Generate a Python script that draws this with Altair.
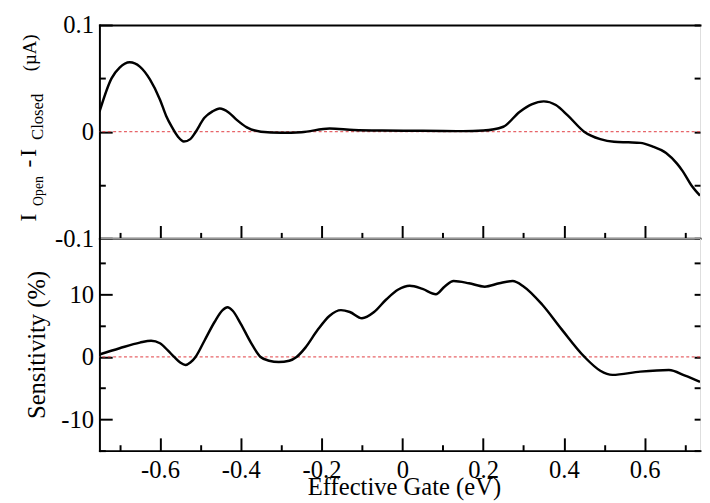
import altair as alt
import pandas as pd

# ---- data ----
gate_top = [-0.75, -0.72, -0.70, -0.675, -0.65, -0.625, -0.60, -0.585, -0.57, -0.555,
            -0.541, -0.525, -0.513, -0.49, -0.47, -0.452, -0.43, -0.41, -0.385, -0.35,
            -0.30, -0.25, -0.18, -0.12, -0.05, 0.05, 0.15, 0.20, 0.25, 0.29,
            0.32, 0.35, 0.38, 0.41, 0.45, 0.49, 0.524, 0.56, 0.589, 0.62,
            0.653, 0.68, 0.694, 0.715, 0.737]
current_diff = [0.0185, 0.050, 0.060, 0.065, 0.061, 0.049, 0.030, 0.015, 0.004, -0.005,
                -0.0093, -0.007, -0.001, 0.013, 0.019, 0.0217, 0.018, 0.011, 0.004, 0.0,
                -0.001, -0.0005, 0.003, 0.0015, 0.001, 0.0008, 0.0005, 0.001, 0.0046, 0.0185,
                0.0256, 0.0284, 0.025, 0.015, 0.0, -0.007, -0.0095, -0.010, -0.0105, -0.014,
                -0.020, -0.030, -0.037, -0.050, -0.060]

gate_bot = [-0.75, -0.70, -0.65, -0.622, -0.60, -0.58, -0.565, -0.55, -0.537, -0.525,
            -0.512, -0.49, -0.465, -0.445, -0.433, -0.42, -0.40, -0.375, -0.351, -0.33,
            -0.306, -0.28, -0.262, -0.24, -0.21, -0.18, -0.152, -0.13, -0.10, -0.07,
            -0.04, -0.01, 0.018, 0.05, 0.083, 0.105, 0.127, 0.165, 0.204, 0.24,
            0.273, 0.30, 0.346, 0.394, 0.451, 0.49, 0.52, 0.589, 0.66, 0.70, 0.737]
sensitivity = [0.4, 1.4, 2.3, 2.6, 2.2, 1.0, 0.0, -0.9, -1.3, -0.9,
               0.0, 2.6, 5.6, 7.5, 7.96, 7.4, 5.3, 2.3, 0.0, -0.6,
               -0.8, -0.6, 0.0, 1.5, 4.3, 6.6, 7.5, 7.2, 6.2, 7.2,
               9.2, 10.8, 11.4, 10.9, 10.05, 11.3, 12.15, 11.8, 11.26, 11.8,
               12.15, 11.3, 8.4, 4.46, 0.0, -2.2, -2.87, -2.35, -2.09, -3.0, -4.0]

x_major = [-0.6, -0.4, -0.2, 0.0, 0.2, 0.4, 0.6]
x_minor = [-0.7, -0.5, -0.3, -0.1, 0.1, 0.3, 0.5, 0.7]
top_major = [-0.1, 0.0, 0.1]
top_minor = [-0.05, 0.05]
bot_major = [-10, 0, 10]
bot_minor = [-15, -5, 5, 15]
zero_level = [0]

x_title = "Effective Gate (eV)"
bot_title = "Sensitivity (%)"
# pieces of "I_Open - I_Closed (µA)"
top_title_parts = ["I", "Open", "-", "I", "Closed", "(\u00b5A)"]

# ---- styling ----
FONT = "Liberation Serif"
XDOM = [-0.75, 0.737]
W = 611
H_TOP = 217
H_BOT = 216
MAJ = 13
MIN = 6
TW = 2
EXT = dict(minExtent=0, maxExtent=400)

top_df = pd.DataFrame({"x": gate_top, "y": current_diff})
bot_df = pd.DataFrame({"x": gate_bot, "y": sensitivity})
zero_df = pd.DataFrame({"zero": zero_level})

lbl_x = "datum.value == 0 ? '0' : replace(format(datum.value, '.1f'), '\u2212', '-')"
lbl_top = "datum.value == 0 ? '0' : replace(format(datum.value, '.1f'), '\u2212', '-')"
lbl_bot = "replace(format(datum.value, 'd'), '\u2212', '-')"


def xenc(axis):
    return alt.X("x:Q", scale=alt.Scale(domain=XDOM, nice=False, zero=False), axis=axis)


def yenc(ydom, axis):
    return alt.Y("y:Q", scale=alt.Scale(domain=ydom, nice=False, zero=False), axis=axis)


def major_x(labels, title):
    kw = dict(orient="bottom", values=x_major, offset=-MAJ, tickSize=MAJ, tickWidth=TW,
              tickColor="black", domain=False, grid=False, labels=labels, **EXT)
    if labels:
        kw.update(labelExpr=lbl_x, labelFont=FONT, labelFontSize=25, labelColor="black",
                  labelPadding=7, labelFlush=False, labelOverlap=False)
    if title:
        kw.update(title=title, titleFont=FONT, titleFontSize=25, titleFontWeight="normal",
                  titleColor="black", titleBaseline="alphabetic", titleY=45 + MAJ,
                  titleX=(0.004 - XDOM[0]) / (XDOM[1] - XDOM[0]) * W)
    else:
        kw.update(title=None)
    return alt.Axis(**kw)


def minor_x():
    return alt.Axis(orient="bottom", values=x_minor, offset=-MIN, tickSize=MIN, tickWidth=TW,
                    tickColor="black", domain=False, grid=False, labels=False, title=None, **EXT)


def border(orient):
    return alt.Axis(orient=orient, domain=True, domainColor="black", domainWidth=2,
                    domainCap="square", ticks=False, labels=False, grid=False, title=None, **EXT)


def major_y(values, expr, title, h):
    kw = dict(orient="left", values=values, offset=-MAJ, tickSize=MAJ, tickWidth=TW,
              tickColor="black", domain=False, grid=False, labels=True, labelExpr=expr,
              labelFont=FONT, labelFontSize=25, labelColor="black", labelPadding=6,
              labelFlush=False, labelOverlap=False, labelBaseline="middle", **EXT)
    if title:
        kw.update(title=title, titleFont=FONT, titleFontSize=25, titleFontWeight="normal",
                  titleColor="black", titleAngle=270, titleBaseline="bottom",
                  titleX=-51 - MAJ, titleY=h / 2, titleAlign="center")
    else:
        kw.update(title=None)
    return alt.Axis(**kw)


def minor_y(values, orient="left"):
    return alt.Axis(orient=orient, values=values, offset=-MIN, tickSize=MIN, tickWidth=TW,
                    tickColor="black", domain=False, grid=False, labels=False, title=None, **EXT)


def panel(df, ydom, ymaj, ymin, yexpr, ytitle, h, xlabels, xtitle, top_border):
    base = alt.Chart(df)
    line = base.mark_line(color="black", strokeWidth=2.5, interpolate="monotone", clip=True).encode(
        x=xenc(major_x(xlabels, xtitle)),
        y=yenc(ydom, major_y(ymaj, yexpr, ytitle, h)),
    )
    minors = base.mark_point(opacity=0, size=1).encode(
        x=xenc(minor_x()), y=yenc(ydom, minor_y(ymin)))
    borders = base.mark_point(opacity=0, size=1).encode(
        x=xenc(border("bottom")), y=yenc(ydom, border("left")))
    right = base.mark_point(opacity=0, size=1).encode(
        x=xenc(border("top") if top_border else None),
        y=yenc(ydom, minor_y(ymaj + ymin, "right")))
    zero = alt.Chart(zero_df).mark_rule(color="#e34a4f", strokeWidth=1.3, strokeDash=[3, 2.5],
                                        opacity=0.85).encode(
        y=alt.Y("zero:Q", scale=alt.Scale(domain=ydom, nice=False, zero=False), axis=None))
    layers = [zero, line, minors, borders, right]
    return layers


top_layers = panel(top_df, [-0.1, 0.1], top_major, top_minor, lbl_top, None, H_TOP,
                   False, None, True)

# composed y title with subscripts for the top panel
title_specs = [
    (top_title_parts[0], 24, -65, 200),
    (top_title_parts[1], 14, -57, 184),
    (top_title_parts[2], 24, -65, 145),
    (top_title_parts[3], 24, -65, 134),
    (top_title_parts[4], 17, -57, 117),
    (top_title_parts[5], 19, -65, 47),
]
for txt, fs, px, py in title_specs:
    top_layers.append(
        alt.Chart(zero_df).mark_text(text=txt, font=FONT, fontSize=fs, angle=270, align="left",
                                     baseline="alphabetic", color="black").encode(
            x=alt.value(px), y=alt.value(py))
    )

top = alt.layer(*top_layers).resolve_axis(x="independent", y="independent").properties(
    width=W, height=H_TOP)

bot_layers = panel(bot_df, [-15, 19], bot_major, bot_minor, lbl_bot, bot_title, H_BOT,
                   True, x_title, False)
bottom = alt.layer(*bot_layers).resolve_axis(x="independent", y="independent").properties(
    width=W, height=H_BOT)

chart = alt.vconcat(top, bottom, spacing=0).properties(
    bounds="flush", padding={"left": 8, "top": 0, "right": 0, "bottom": 0}
).configure_view(stroke=None).configure(background="white")

chart.save("out.html", embed_options={"renderer": "svg", "actions": False})
